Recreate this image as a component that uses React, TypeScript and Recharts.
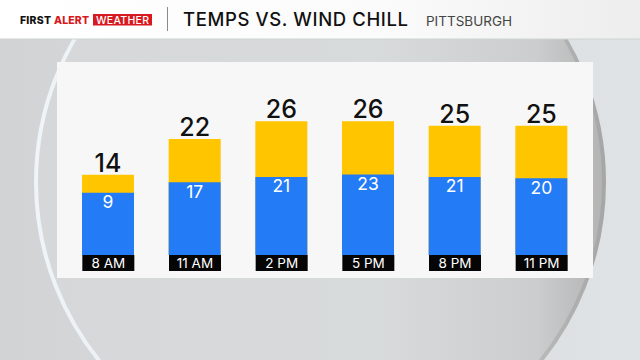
import * as React from 'react';
import { BarChart, Bar, XAxis, YAxis, LabelList } from 'recharts';

// forecast hours and readings (deg F)
const hours = ['8 AM', '11 AM', '2 PM', '5 PM', '8 PM', '11 PM'];
const temps = [14, 22, 26, 26, 25, 25];
const windChills = [9, 17, 21, 23, 21, 20];

// the broadcast graphic uses a separate (compressed) scale for the wind chill block
const tempDomain: [number, number] = [-4, 33];
const chillDomain: [number, number] = [-39, 88];

const FONT = 'Inter, "Open Sans", sans-serif';
const YELLOW = '#ffc600';
const BLUE = '#237bf6';

// bars are drawn as ranges from the bottom of their axis up to the reading
const data = hours.map((h, i) => ({
  hour: h,
  temp: temps[i],
  chill: windChills[i],
  tempBar: [tempDomain[0], temps[i]],
  chillBar: [chillDomain[0], windChills[i]],
}));

const HourTick = (props: any) => {
  const { x, y, payload } = props;
  return (
    <g>
      <rect x={x - 26} y={y} width={52} height={16} fill="#050505" />
      <text x={x} y={y + 13} textAnchor="middle" fill="#fff" fontSize={13.5} fontWeight={400} fontFamily={FONT}>
        {payload.value}
      </text>
    </g>
  );
};

function Backdrop() {
  return (
    <svg width={640} height={360} style={{ position: 'absolute', left: 0, top: 0 }}>
      <defs>
        <linearGradient id="bg" x1="0" x2="1" y1="0" y2="0">
          <stop offset="0" stopColor="#d2d3d4" />
          <stop offset="0.5" stopColor="#d8dbdc" />
          <stop offset="1" stopColor="#dfe3e5" />
        </linearGradient>
        <linearGradient id="disc" x1="0" x2="1" y1="0" y2="0">
          <stop offset="0" stopColor="#d5d7d8" />
          <stop offset="0.6" stopColor="#d8dbdc" />
          <stop offset="0.88" stopColor="#cbcdce" />
          <stop offset="1" stopColor="#b3b3b3" />
        </linearGradient>
        <linearGradient id="rim" x1="0" x2="1" y1="0" y2="0">
          <stop offset="0" stopColor="#eef4f7" />
          <stop offset="0.45" stopColor="#e2e8ea" />
          <stop offset="0.8" stopColor="#c6c8c9" />
          <stop offset="1" stopColor="#a6a6a6" />
        </linearGradient>
        <linearGradient id="head" x1="0" x2="1" y1="0" y2="0">
          <stop offset="0" stopColor="#ffffff" />
          <stop offset="0.6" stopColor="#fbfbfb" />
          <stop offset="1" stopColor="#ededed" />
        </linearGradient>
      </defs>
      <rect width={640} height={360} fill="url(#bg)" />
      <circle cx={320} cy={182} r={284} fill="url(#disc)" stroke="url(#rim)" strokeWidth={4} />
      <rect width={640} height={39} fill="url(#head)" />
      <line x1={0} x2={640} y1={39} y2={39} stroke="#cfd3d4" />
      <text x={20} y={24} fontFamily={FONT} fontSize={10.5} fontWeight={800} fill="#111" textLength={31}>
        FIRST
      </text>
      <text x={54} y={24} fontFamily={FONT} fontSize={10.5} fontWeight={800} fill="#d71920" textLength={35}>
        ALERT
      </text>
      <rect x={93} y={14} width={59} height={11.5} fill="#d71920" />
      <text x={96} y={24} fontFamily={FONT} fontSize={10.5} fontWeight={500} fill="#fff" textLength={53}>
        WEATHER
      </text>
      <line x1={167.5} x2={167.5} y1={7} y2={31} stroke="#8a8a8a" strokeWidth={1} />
      <text x={183} y={26} fontFamily={FONT} fontSize={18.5} fontWeight={500} fill="#111" textLength={225}>
        TEMPS VS. WIND CHILL
      </text>
      <text x={426} y={25.5} fontFamily={FONT} fontSize={13.5} fontWeight={400} fill="#444" textLength={86}>
        PITTSBURGH
      </text>
    </svg>
  );
}

export default function App() {
  return (
    <div style={{ position: 'absolute', left: 0, top: 0, width: 640, height: 360, overflow: 'hidden' }}>
      <Backdrop />
      <div style={{ position: 'absolute', left: 57, top: 62, width: 536, height: 216, background: '#f7f7f7' }}>
        <BarChart
          width={536}
          height={216}
          data={data}
          margin={{ top: 28, right: 8, left: 8, bottom: 7 }}
          barSize={52}
          barGap={-52}
        >
          <XAxis
            dataKey="hour"
            height={16}
            tickSize={0}
            tickMargin={0}
            axisLine={false}
            tickLine={false}
            interval={0}
            tick={<HourTick />}
          />
          <YAxis yAxisId="t" hide domain={tempDomain} allowDataOverflow />
          <YAxis yAxisId="w" hide domain={chillDomain} allowDataOverflow />
          <Bar yAxisId="t" dataKey="tempBar" fill={YELLOW} isAnimationActive={false}>
            <LabelList dataKey="temp" position="top" offset={3} fill="#111" fontSize={25} fontWeight={500} fontFamily={FONT} />
          </Bar>
          <Bar yAxisId="w" dataKey="chillBar" fill={BLUE} isAnimationActive={false}>
            <LabelList dataKey="chill" position="insideTop" offset={3} fill="#fff" fontSize={17.5} fontWeight={400} fontFamily={FONT} />
          </Bar>
        </BarChart>
      </div>
    </div>
  );
}
